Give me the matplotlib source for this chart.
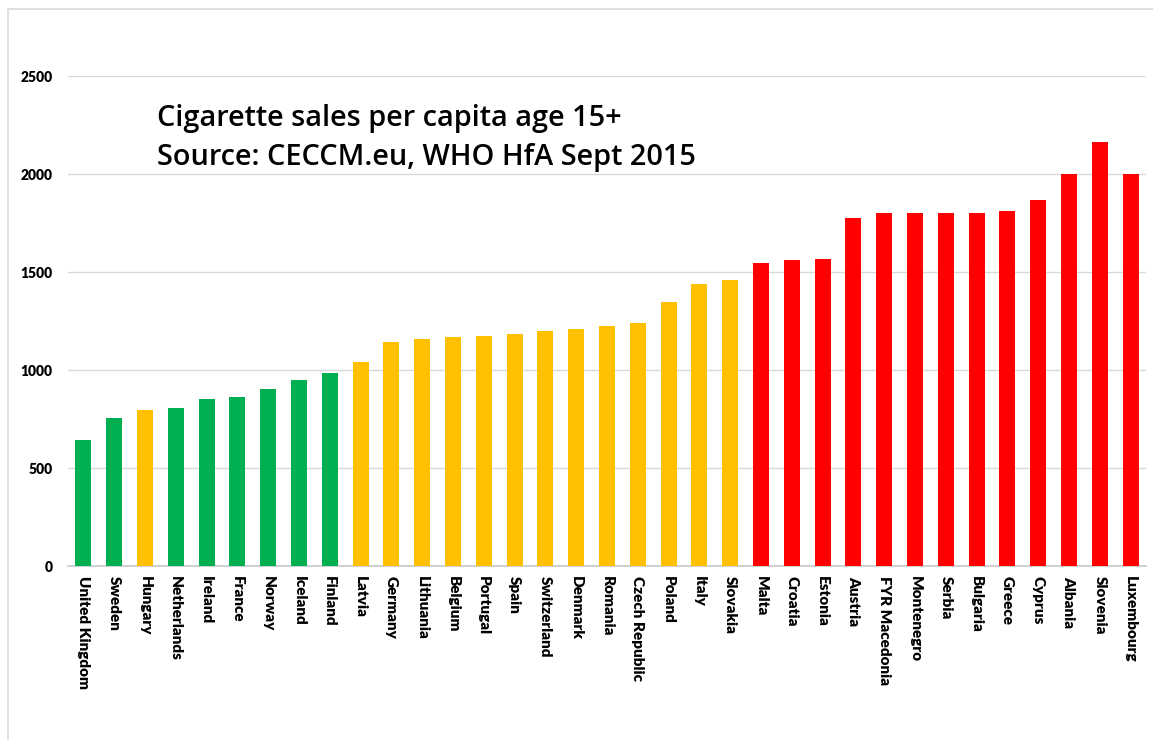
import matplotlib
matplotlib.use("Agg")
import matplotlib.pyplot as plt
from matplotlib.patches import Rectangle

countries = ["United Kingdom", "Sweden", "Hungary", "Netherlands", "Ireland", "France",
             "Norway", "Iceland", "Finland", "Latvia", "Germany", "Lithuania", "Belgium",
             "Portugal", "Spain", "Switzerland", "Denmark", "Romania", "Czech Republic",
             "Poland", "Italy", "Slovakia", "Malta", "Croatia", "Estonia", "Austria",
             "FYR Macedonia", "Montenegro", "Serbia", "Bulgaria", "Greece", "Cyprus",
             "Albania", "Slovenia", "Luxembourg"]
sales = [643, 757, 794, 804, 854, 864, 901, 950, 983, 1043, 1141, 1157, 1168,
         1173, 1184, 1201, 1211, 1226, 1238, 1347, 1439, 1461, 1548, 1560, 1566,
         1776, 1803, 1803, 1803, 1803, 1813, 1867, 2000, 2165, 2000]
groups = ["g", "g", "y", "g", "g", "g", "g", "g", "g", "y", "y", "y", "y",
          "y", "y", "y", "y", "y", "y", "y", "y", "y", "r", "r", "r", "r",
          "r", "r", "r", "r", "r", "r", "r", "r", "r"]
yticks = [0, 500, 1000, 1500, 2000, 2500]

palette = {"g": "#00b050", "y": "#ffc000", "r": "#ff0000"}
colors = [palette[g] for g in groups]

fig = plt.figure(figsize=(11.53, 7.40), dpi=100)
ax = fig.add_axes([68 / 1153, 1 - 566 / 740, (1146 - 68) / 1153, (566 - 76) / 740])

x = list(range(len(countries)))
ax.bar(x, sales, width=0.52, color=colors, zorder=3)

ax.set_xlim(-0.5, len(countries) - 0.5)
ax.set_ylim(0, 2500)
ax.set_yticks(yticks)
ax.set_yticklabels([str(t) for t in yticks], fontsize=10, fontweight="heavy", family="Lato")
ax.set_xticks(x)
ax.set_xticklabels(countries, rotation=270, fontsize=11, fontweight="heavy", family="Lato",
                   va="top", ha="center")
ax.tick_params(axis="both", length=0)
ax.tick_params(axis="y", pad=11)
ax.tick_params(axis="x", pad=7)

ax.grid(axis="y", color="#d9d9d9", linewidth=1, zorder=0)
for s in ["top", "right", "left"]:
    ax.spines[s].set_visible(False)
ax.spines["bottom"].set_color("#c8c8c8")
ax.spines["bottom"].set_linewidth(1.2)

ax.text(157 / 1153, 1 - 138 / 740, "Cigarette sales per capita age 15+\nSource: CECCM.eu, WHO HfA Sept 2015",
        transform=fig.transFigure, fontsize=20.8, family="Open Sans", fontweight="semibold",
        va="center", ha="left", linespacing=1.42)

# outer chart border (only top/left visible in the reference)
fig.patches.append(Rectangle((8 / 1153, -0.1), 1.2, 1 - 9 / 740 + 0.1, transform=fig.transFigure,
                             fill=False, edgecolor="#d9d9d9", linewidth=1.2))

fig.savefig("out.png", dpi=100)
